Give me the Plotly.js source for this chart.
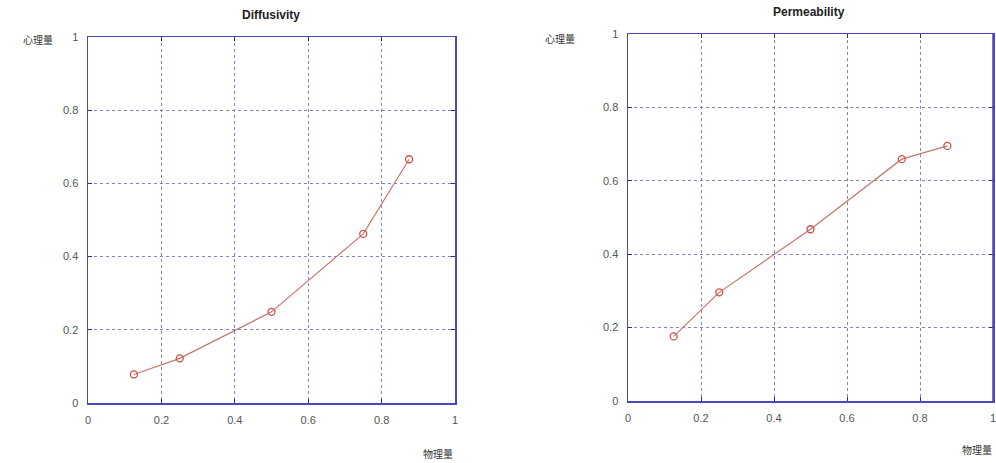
<!DOCTYPE html>
<html><head><meta charset="utf-8">
<script src="https://cdn.plot.ly/plotly-3.0.1.min.js"></script>
<style>html,body{margin:0;padding:0;background:#fff}#c{width:996px;height:463px}</style>
</head><body><div id="c"></div>
<script>
const xVals = [0.125, 0.25, 0.5, 0.75, 0.875];
const diffusivity = [0.078, 0.122, 0.249, 0.462, 0.666];
const permeability = [0.176, 0.296, 0.468, 0.659, 0.695];
const titles = ["Diffusivity", "Permeability"];
const yLabel = "心理量";
const xLabel = "物理量";
const tickVals = [0, 0.2, 0.4, 0.6, 0.8, 1];
const tickText = ["0", "0.2", "0.4", "0.6", "0.8", "1"];

const lineColor = "#c8766e";
const markerStyle = {symbol: "circle-open", size: 7, color: "#d0504a", line: {width: 1.3, color: "#d0504a"}};
function trace(y, xa, ya) {
  return {x: xVals, y: y, xaxis: xa, yaxis: ya, type: "scatter", mode: "lines+markers",
    line: {color: lineColor, width: 1.2}, marker: markerStyle, showlegend: false, cliponaxis: false};
}
function axis(domain, anchor) {
  return {domain: domain, anchor: anchor, range: [0, 1], tickvals: tickVals, ticktext: tickText,
    showline: true, linecolor: "#4848c0", linewidth: 1.5, mirror: "ticks",
    ticks: "inside", ticklen: 4, tickcolor: "#303070",
    showgrid: true, gridcolor: "#8080d0", griddash: "dot", gridwidth: 1,
    zeroline: false, ticklabelstandoff: 6, ticklabeloverflow: "allow",
    tickfont: {family: "Liberation Sans, Arial", size: 11, color: "#555"}};
}
function ann(text, px, py, f) {
  return {text: text, x: px/996, y: 1 - py/463, xref: "paper", yref: "paper", showarrow: false,
    xanchor: "center", yanchor: "middle", font: f};
}
const titleFont = {family: "Liberation Sans, Arial", size: 12, color: "#222"};
const cjkFont = {family: "Noto Sans CJK SC", size: 10, color: "#333"};
const layout = {
  width: 996, height: 463, margin: {l: 0, r: 0, t: 0, b: 0},
  paper_bgcolor: "#fff", plot_bgcolor: "#fff",
  font: {family: "Liberation Sans, Arial", size: 11, color: "#333"},
  xaxis: axis([88/996, 455/996], "y"),
  yaxis: axis([60/463, 426/463], "x"),
  xaxis2: axis([628/996, 993/996], "y2"),
  yaxis2: axis([62/463, 429/463], "x2"),
  shapes: [
    {type: "line", xref: "x2 domain", yref: "y2 domain", x0: 1, x1: 1, y0: 0, y1: 1,
     line: {color: "#4848c0", width: 1.5}, layer: "above"}
  ],
  annotations: [
    ann("<b>" + titles[0] + "</b>", 271, 15, titleFont),
    ann("<b>" + titles[1] + "</b>", 809, 12, titleFont),
    ann(yLabel, 38, 40, cjkFont),
    ann(yLabel, 560, 38, cjkFont),
    ann(xLabel, 438, 453, cjkFont),
    ann(xLabel, 977, 449, cjkFont)
  ]
};
Plotly.newPlot("c", [trace(diffusivity, "x", "y"), trace(permeability, "x2", "y2")], layout, {staticPlot: true});
</script></body></html>
